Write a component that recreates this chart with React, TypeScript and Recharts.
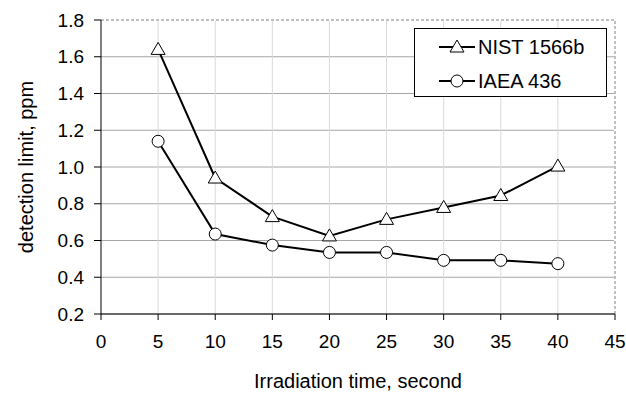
import React from "react";
import {
  LineChart,
  Line,
  XAxis,
  YAxis,
  CartesianGrid,
  ReferenceLine,
} from "recharts";

const times = [5, 10, 15, 20, 25, 30, 35, 40];
const nist = [1.64, 0.94, 0.73, 0.625, 0.715, 0.78, 0.845, 1.005];
const iaea = [1.14, 0.635, 0.575, 0.535, 0.535, 0.492, 0.492, 0.474];
const xTicks = [0, 5, 10, 15, 20, 25, 30, 35, 40, 45];
const yTicks = [0.2, 0.4, 0.6, 0.8, 1.0, 1.2, 1.4, 1.6, 1.8];
const seriesNames = ["NIST 1566b", "IAEA 436"];

const data = times.map((t, i) => ({ t, nist: nist[i], iaea: iaea[i] }));

const FONT = "'Liberation Sans', Arial, sans-serif";

function Triangle({ cx, cy }: any) {
  if (cx == null || cy == null) return null;
  return (
    <polygon
      points={`${cx},${cy - 7} ${cx - 7},${cy + 5} ${cx + 7},${cy + 5}`}
      fill="#fff"
      stroke="#000"
      strokeWidth={1}
    />
  );
}

function Circle({ cx, cy }: any) {
  if (cx == null || cy == null) return null;
  return <circle cx={cx} cy={cy} r={6} fill="#fff" stroke="#000" strokeWidth={1} />;
}

function LegendBox() {
  const row = (name: string, marker: React.ReactNode) => (
    <div style={{ display: "flex", alignItems: "center", height: 34 }}>
      <svg width={36} height={20} style={{ marginLeft: 24, marginRight: 3 }}>
        <line x1={0} y1={10} x2={36} y2={10} stroke="#000" strokeWidth={2} />
        {marker}
      </svg>
      <span style={{ fontFamily: FONT, fontSize: 20, color: "#000" }}>{name}</span>
    </div>
  );
  return (
    <div
      style={{
        position: "absolute",
        left: 414,
        top: 28,
        width: 193,
        height: 69,
        border: "1px solid #000",
        background: "#fff",
        boxSizing: "border-box",
        paddingTop: 1,
      }}
    >
      {row(seriesNames[0], <Triangle cx={18} cy={10} />)}
      {row(seriesNames[1], <Circle cx={18} cy={10} />)}
    </div>
  );
}

export default function App() {
  return (
    <div style={{ position: "relative", width: 626, height: 393 }}>
      <style>{"html,body{margin:0;padding:0;overflow:hidden}"}</style>
      <LineChart
        width={626}
        height={393}
        data={data}
        margin={{ top: 20, right: 11, left: 0, bottom: 9 }}
        style={{ overflow: "visible" }}
      >
        <CartesianGrid vertical={false} stroke="#a6a6a6" strokeWidth={1} />
        {xTicks.slice(1, -1).map((x) => (
          <ReferenceLine key={x} x={x} stroke="#d9d9d9" strokeWidth={1} />
        ))}
        <ReferenceLine y={1.8} stroke="#fff" strokeWidth={2} />
        <ReferenceLine y={1.8} stroke="#808080" strokeDasharray="3 2" />
        <ReferenceLine x={45} stroke="#fff" strokeWidth={2} />
        <ReferenceLine x={45} stroke="#808080" strokeDasharray="3 2" />
        <XAxis
          dataKey="t"
          type="number"
          domain={[0, 45]}
          ticks={xTicks}
          height={70}
          stroke="#000"
          tickSize={6}
          tickMargin={15}
          tick={{ fontSize: 19, fill: "#000", fontFamily: FONT }}
          label={() => (
            <text x={358} y={388} textAnchor="middle" fontSize={20} fontFamily={FONT} fill="#000">
              Irradiation time, second
            </text>
          )}
        />
        <YAxis
          type="number"
          domain={[0.2, 1.8]}
          ticks={yTicks}
          width={101}
          stroke="#000"
          tickSize={7}
          tickMargin={10}
          tickFormatter={(v: number) => v.toFixed(1)}
          tick={{ fontSize: 19, fill: "#000", fontFamily: FONT }}
          label={() => (
            <text
              x={33}
              y={167}
              textAnchor="middle"
              fontSize={20}
              fontFamily={FONT}
              fill="#000"
              transform="rotate(-90 33 167)"
            >
              detection limit, ppm
            </text>
          )}
        />
        <Line
          dataKey="nist"
          name={seriesNames[0]}
          stroke="#000"
          strokeWidth={2}
          dot={<Triangle />}
          activeDot={false}
          isAnimationActive={false}
        />
        <Line
          dataKey="iaea"
          name={seriesNames[1]}
          stroke="#000"
          strokeWidth={2}
          dot={<Circle />}
          activeDot={false}
          isAnimationActive={false}
        />
      </LineChart>
      <LegendBox />
    </div>
  );
}
